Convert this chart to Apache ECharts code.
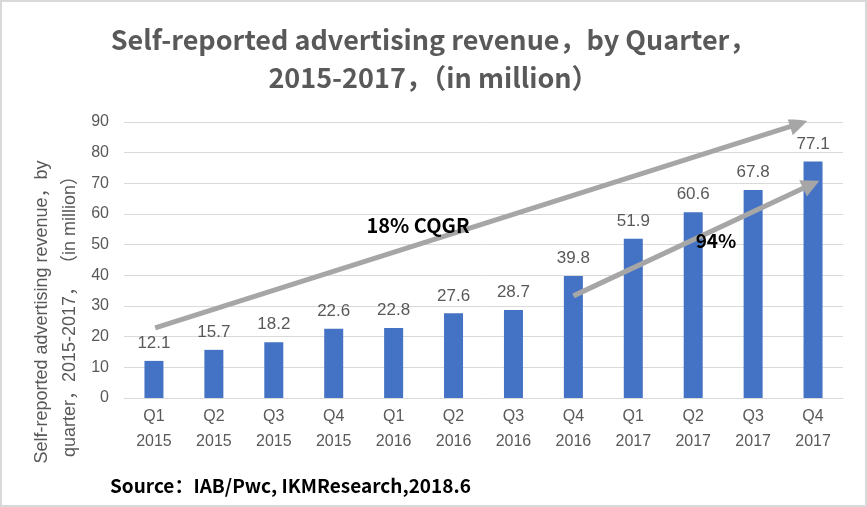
<!DOCTYPE html>
<html>
<head>
<meta charset="utf-8">
<script src="https://cdn.jsdelivr.net/npm/echarts@6/dist/echarts.min.js"></script>
<style>
  html, body { margin: 0; padding: 0; background: #fff; }
  #chart { width: 867px; height: 507px; }
</style>
</head>
<body>
<div id="chart"></div>
<script>
// quarter categories and revenue (in million)
const quarters = ['Q1\n2015', 'Q2\n2015', 'Q3\n2015', 'Q4\n2015',
  'Q1\n2016', 'Q2\n2016', 'Q3\n2016', 'Q4\n2016',
  'Q1\n2017', 'Q2\n2017', 'Q3\n2017', 'Q4\n2017'];
const revenue = [12.1, 15.7, 18.2, 22.6, 22.8, 27.6, 28.7, 39.8, 51.9, 60.6, 67.8, 77.1];

// annotation arrows: [category position, value]
const cqgrArrow = [[0.02, 22.9], [10.76, 89.4]];
const growthArrow = [[7.0, 33.3], [10.97, 69.6]];

const grey = '#595959';
const cjk = '"Noto Sans CJK SC", "Liberation Sans", sans-serif';
const latin = '"Liberation Sans", "Noto Sans CJK SC", sans-serif';

const chart = echarts.init(document.getElementById('chart'));

const option = {
  animation: false,
  title: {
    text: 'Self-reported advertising revenue，by Quarter，\n2015-2017，（in million）',
    left: 'center',
    top: 16,
    textStyle: {
      color: grey,
      fontFamily: cjk,
      fontWeight: 'bold',
      fontSize: 27,
      lineHeight: 38
    }
  },
  grid: {
    left: 124,
    right: 24,
    top: 122,
    bottom: 109
  },
  xAxis: [{
    type: 'category',
    data: quarters,
    axisLine: { lineStyle: { color: '#d9d9d9' } },
    axisTick: { show: false },
    axisLabel: {
      color: grey,
      fontFamily: latin,
      fontSize: 16,
      lineHeight: 25,
      margin: 6
    }
  }, {
    type: 'value',
    min: -0.5,
    max: 11.5,
    show: false
  }],
  yAxis: {
    type: 'value',
    min: 0,
    max: 90,
    interval: 10,
    axisLine: { show: false },
    axisTick: { show: false },
    axisLabel: {
      color: grey,
      fontFamily: latin,
      fontSize: 16,
      margin: 15
    },
    splitLine: { lineStyle: { color: '#d9d9d9', width: 1 } }
  },
  series: [{
    type: 'bar',
    data: revenue,
    barWidth: 19,
    itemStyle: { color: '#4472c4' },
    label: {
      show: true,
      position: 'top',
      distance: 9,
      color: grey,
      fontFamily: latin,
      fontSize: 17
    }
  }, {
    type: 'lines',
    coordinateSystem: 'cartesian2d',
    xAxisIndex: 1,
    yAxisIndex: 0,
    symbol: ['none', 'triangle'],
    symbolSize: [16, 18],
    lineStyle: { color: '#a6a6a6', width: 5, opacity: 1 },
    data: [{ coords: cqgrArrow }, { coords: growthArrow }],
    z: 5
  }],
  graphic: [{
    type: 'rect',
    shape: { x: 1, y: 1, width: 865, height: 505 },
    style: { fill: 'none', stroke: '#d9d9d9', lineWidth: 2 },
    silent: true
  }, {
    type: 'text',
    x: 56,
    y: 312,
    rotation: Math.PI / 2,
    style: {
      text: 'Self-reported advertising revenue，by\nquarter，2015-2017， （in million）',
      fill: grey,
      font: '18px ' + latin,
      lineHeight: 28,
      align: 'center',
      verticalAlign: 'middle'
    }
  }, {
    type: 'text',
    x: 418,
    y: 225,
    style: {
      text: '18% CQGR',
      fill: '#000',
      font: 'bold 20px ' + cjk,
      align: 'center',
      verticalAlign: 'middle'
    },
    z: 10
  }, {
    type: 'text',
    x: 716,
    y: 241,
    style: {
      text: '94%',
      fill: '#000',
      font: 'bold 19px ' + cjk,
      align: 'center',
      verticalAlign: 'middle'
    },
    z: 10
  }, {
    type: 'text',
    x: 110,
    y: 486,
    style: {
      text: 'Source：IAB/Pwc, IKMResearch,2018.6',
      fill: '#000',
      font: 'bold 19px ' + cjk,
      align: 'left',
      verticalAlign: 'middle'
    }
  }]
};

chart.setOption(option);
</script>
</body>
</html>
